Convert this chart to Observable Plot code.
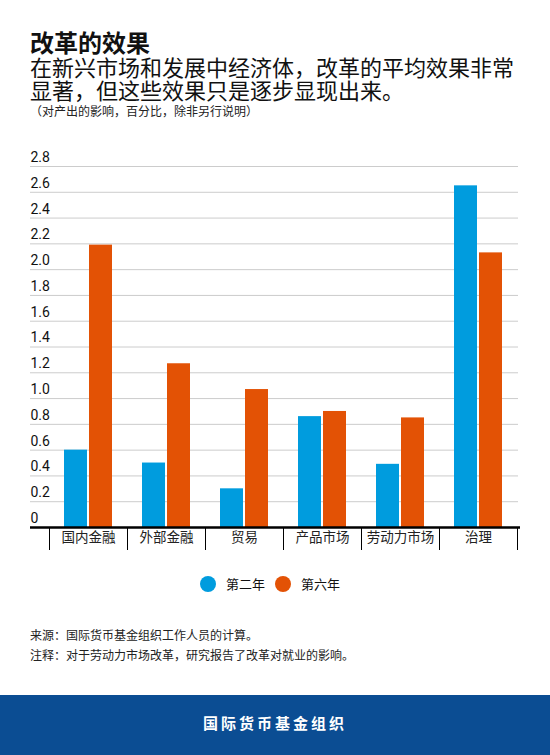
<!DOCTYPE html>
<html>
<head>
<meta charset="utf-8">
<script src="https://cdn.jsdelivr.net/npm/d3@7"></script>
<script src="https://cdn.jsdelivr.net/npm/@observablehq/plot@0.6"></script>
<style>
  html, body { margin: 0; padding: 0; background: #fff; }
  body { width: 550px; height: 755px; position: relative; overflow: hidden;
         font-family: "Noto Sans CJK SC", "Noto Sans", sans-serif; color: #111; }
  .abs { position: absolute; left: 30px; white-space: nowrap; }
  #title { top: 30px; font-size: 24px; font-weight: 700; line-height: 24px; }
  #subtitle { top: 55px; font-size: 22px; line-height: 23px; }
  #note { top: 103px; font-size: 12px; line-height: 16px; color: #222; }
  #chart { position: absolute; left: 0; top: 140px; }
  #legend { position: absolute; top: 574px; left: -5px; width: 550px; text-align: center; font-size: 13px; }
  #legend span.item { display: inline-flex; align-items: center; margin: 0 5px; }
  #legend span.dot { display: inline-block; width: 16px; height: 16px; border-radius: 50%; margin-right: 10px; }
  #source { top: 625px; font-size: 12px; line-height: 20px; color: #222; }
  #band { position: absolute; left: 0; top: 695px; width: 550px; height: 60px; background: #0b4d93;
          color: #fff; font-weight: 700; font-size: 15px; letter-spacing: 3px; text-align: center; line-height: 56px; }
</style>
</head>
<body>
<div id="title" class="abs">改革的效果</div>
<div id="subtitle" class="abs">在新兴市场和发展中经济体，改革的平均效果非常<br>显著，但这些效果只是逐步显现出来。</div>
<div id="note" class="abs">（对产出的影响，百分比，除非另行说明）</div>
<div id="chart"></div>
<div id="legend"></div>
<div id="source" class="abs">来源：国际货币基金组织工作人员的计算。<br>注释：对于劳动力市场改革，研究报告了改革对就业的影响。</div>
<div id="band">国际货币基金组织</div>
<script>
const categories = ["国内金融", "外部金融", "贸易", "产品市场", "劳动力市场", "治理"];
const year2 = [0.60, 0.50, 0.30, 0.86, 0.49, 2.65];
const year6 = [2.19, 1.27, 1.07, 0.90, 0.85, 2.13];
const seriesNames = ["第二年", "第六年"];
const seriesColors = ["#009cde", "#e35205"];
const yTicks = [0, 0.2, 0.4, 0.6, 0.8, 1.0, 1.2, 1.4, 1.6, 1.8, 2.0, 2.2, 2.4, 2.6, 2.8];

const data2 = categories.map((c, i) => ({category: c, value: year2[i]}));
const data6 = categories.map((c, i) => ({category: c, value: year6[i]}));

const chart = Plot.plot({
  width: 550,
  height: 420,
  marginTop: 26,
  marginBottom: 33,
  marginLeft: 30,
  marginRight: 32,
  style: {fontFamily: "'Noto Sans CJK SC', sans-serif", background: "transparent"},
  x: {domain: categories, range: [49, 517], padding: 0, axis: null},
  y: {domain: [0, 2.8], axis: null},
  marks: [
    Plot.ruleY(yTicks.filter(d => d > 0), {stroke: "#cccccc", strokeWidth: 1}),
    Plot.text(yTicks, {y: d => d, text: d => d === 0 ? "0" : d.toFixed(1), frameAnchor: "left", textAnchor: "start", dy: -9, fontSize: 14, fill: "#111", fontFamily: "Roboto, sans-serif"}),
    Plot.barY(data2, {x: "category", y: "value", fill: seriesColors[0], insetLeft: 15, insetRight: 40}),
    Plot.barY(data6, {x: "category", y: "value", fill: seriesColors[1], insetLeft: 40, insetRight: 15}),
    Plot.axisX({tickSize: 0, tickPadding: 5, fontSize: 13.5, fill: "#222", label: null}),
    Plot.axisX({tickSize: 23, tickFormat: () => "", dx: -39, stroke: "#000", label: null}),
    Plot.axisX({tickSize: 23, tickFormat: () => "", dx: 39, stroke: "#000", label: null}),
    Plot.ruleY([0], {stroke: "#000", strokeWidth: 2.5, insetRight: -2})
  ]
});
document.getElementById("chart").appendChild(chart);

const legend = document.getElementById("legend");
seriesNames.forEach((name, i) => {
  const item = document.createElement("span");
  item.className = "item";
  const dot = document.createElement("span");
  dot.className = "dot";
  dot.style.background = seriesColors[i];
  item.appendChild(dot);
  item.appendChild(document.createTextNode(name));
  legend.appendChild(item);
});
</script>
</body>
</html>
